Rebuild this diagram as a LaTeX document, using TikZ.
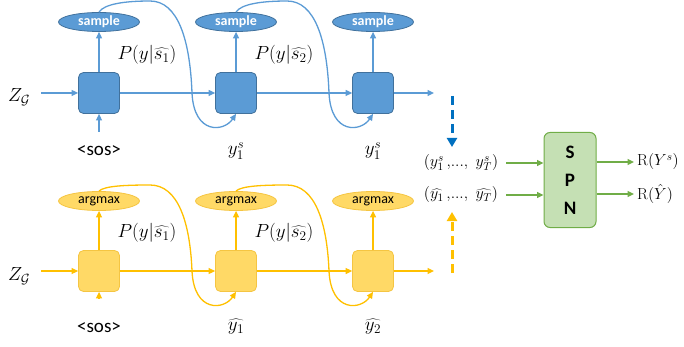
\documentclass[tikz,border=0pt]{standalone}
\usepackage{fix-cm}
\usepackage{fontspec}
\newfontfamily\calib{Carlito}
\usetikzlibrary{arrows.meta,shapes.geometric}
\definecolor{bfill}{HTML}{5B9BD5}
\definecolor{bdraw}{HTML}{41719C}
\definecolor{yfill}{HTML}{FFD966}
\definecolor{ydraw}{HTML}{F5C542}
\definecolor{yline}{HTML}{FFC000}
\definecolor{gfill}{HTML}{C5E0B4}
\definecolor{gdraw}{HTML}{70AD47}
\definecolor{dblue}{HTML}{0070C0}
\begin{document}
\begin{tikzpicture}[x=1pt,y=-1pt,
  cellB/.style={draw=bdraw,fill=bfill,line width=0.8pt,rounded corners=5pt,minimum size=41pt,inner sep=0pt},
  cellY/.style={draw=ydraw,fill=yfill,line width=0.8pt,rounded corners=5pt,minimum size=41pt,inner sep=0pt},
  ellB/.style={ellipse,draw=bdraw,fill=bfill,line width=0.8pt,minimum width=81pt,minimum height=19pt,inner sep=0pt,text=white,font=\calib\bfseries\fontsize{14}{14}\selectfont},
  ellY/.style={ellipse,draw=ydraw,fill=yfill,line width=0.8pt,minimum width=81pt,minimum height=19pt,inner sep=0pt,text=black,font=\calib\fontsize{14}{14}\selectfont},
  arrB/.style={draw=bfill,line width=1.3pt,-{Triangle[length=6.5pt,width=6pt]}},
  arrY/.style={draw=yline,line width=1.3pt,-{Triangle[length=6.5pt,width=6pt]}},
  arrG/.style={draw=gdraw,line width=1.3pt,-{Triangle[length=6.5pt,width=6pt]}},
  dashB/.style={draw=dblue,line width=3pt,dash pattern=on 9pt off 5pt,-{Triangle[length=9pt,width=10pt]}},
  dashY/.style={draw=yline,line width=3pt,dash pattern=on 9pt off 5pt,-{Triangle[length=9pt,width=10pt]}},
  mlab/.style={inner sep=0pt,font=\fontsize{19}{19}\selectfont},
  slab/.style={inner sep=0pt,font=\fontsize{16}{16}\selectfont},
  sos/.style={inner sep=0pt,font=\calib\fontsize{19}{19}\selectfont}
]
\useasboundingbox (0,0) rectangle (684,347);

% ---------- top (sampling) row ----------
\node[cellB] (c1) at (99,93) {};
\node[cellB] (c2) at (236,93) {};
\node[cellB] (c3) at (373,93) {};
\node[ellB] (s1) at (99,22) {sample};
\node[ellB] (s2) at (236,22) {sample};
\node[ellB] (s3) at (373,22) {sample};
\node[mlab] (zg1) at (19,97) {$Z_{\mathcal{G}}$};
\coordinate (zin1) at (41,93);
\coordinate (out1) at (434,93);
\node[sos] (sos1) at (99,151) {<sos>};
\coordinate (sin1) at (99,132);
\node[mlab] (y1a) at (236,151) {$y_1^s$};
\node[mlab] (y1b) at (373,151) {$y_1^s$};
\node[mlab] (p1) at (147,55) {$P(y|\widehat{s_1})$};
\node[mlab] (p2) at (284,55) {$P(y|\widehat{s_2})$};

\draw[arrB] (zin1) -- (c1);
\draw[arrB] (c1) -- (c2);
\draw[arrB] (c2) -- (c3);
\draw[arrB] (c3) -- (out1);
\draw[arrB] (sin1) -- (c1);
\draw[arrB] (c1) -- (s1);
\draw[arrB] (c2) -- (s2);
\draw[arrB] (c3) -- (s3);
\draw[arrB] (s1.north) .. controls (104,4) and (125,1) .. (150,1) .. controls (178,1) and (190,40) .. (192,93) .. controls (194,135) and (224,132) .. (c2.south);
\draw[arrB] (s2.north) .. controls (241,4) and (262,1) .. (287,1) .. controls (315,1) and (327,40) .. (329,93) .. controls (331,135) and (361,132) .. (c3.south);

% ---------- bottom (argmax) row ----------
\node[cellY] (c4) at (99,271) {};
\node[cellY] (c5) at (236,271) {};
\node[cellY] (c6) at (373,271) {};
\node[ellY] (a1) at (99,201) {argmax};
\node[ellY] (a2) at (236,201) {argmax};
\node[ellY] (a3) at (373,201) {argmax};
\node[mlab] (zg2) at (19,276) {$Z_{\mathcal{G}}$};
\coordinate (zin2) at (41,271);
\coordinate (out2) at (434,271);
\node[sos] (sos2) at (99,328) {<sos>};
\coordinate (sin2) at (99,298);
\node[mlab] (yh1) at (236,327) {$\widehat{y_1}$};
\node[mlab] (yh2) at (373,327) {$\widehat{y_2}$};
\node[mlab] (p3) at (147,233) {$P(y|\widehat{s_1})$};
\node[mlab] (p4) at (284,233) {$P(y|\widehat{s_2})$};

\draw[arrY] (zin2) -- (c4);
\draw[arrY] (c4) -- (c5);
\draw[arrY] (c5) -- (c6);
\draw[arrY] (c6) -- (out2);
\draw[arrY] (sin2) -- (c4);
\draw[arrY] (c4) -- (a1);
\draw[arrY] (c5) -- (a2);
\draw[arrY] (c6) -- (a3);
\draw[arrY] (a1.north) .. controls (104,186) and (125,185) .. (150,185) .. controls (178,185) and (190,222) .. (192,271) .. controls (194,313) and (224,310) .. (c5.south);
\draw[arrY] (a2.north) .. controls (241,186) and (262,185) .. (287,185) .. controls (315,185) and (327,222) .. (329,271) .. controls (331,313) and (361,310) .. (c6.south);

% ---------- SPN part ----------
\coordinate (db1) at (452,96);
\coordinate (db2) at (452,147);
\coordinate (dy1) at (452,273);
\coordinate (dy2) at (452,212);
\draw[dashB] (db1) -- (db2);
\draw[dashY] (dy1) -- (dy2);

\node[slab] (t1) at (461,163) {$(y_1^s\,,\!...,\ y_T^s)$};
\node[slab] (t2) at (461,195) {$(\widehat{y_1}\,,\!...,\ \widehat{y_T})$};
\node[draw=gdraw,fill=gfill,line width=1pt,rounded corners=6pt,minimum width=52pt,minimum height=95pt,inner sep=0pt,
      align=center,font=\calib\bfseries\fontsize{19}{28}\selectfont] (spn) at (570,180) {S\\P\\N};
\coordinate (g1) at (506,163);
\coordinate (g2) at (506,195);
\draw[arrG] (g1) -- (g1 -| spn.west);
\draw[arrG] (g2) -- (g2 -| spn.west);
\node[slab,anchor=west] (r1) at (637,162) {$\mathrm{R}(Y^s)$};
\node[slab,anchor=west] (r2) at (637,194) {$\mathrm{R}(\hat{Y})$};
\draw[arrG] (r1.west -| spn.east) -- ([xshift=-3pt]r1.west);
\draw[arrG] (r2.west -| spn.east) -- ([xshift=-3pt]r2.west);
\end{tikzpicture}
\end{document}
